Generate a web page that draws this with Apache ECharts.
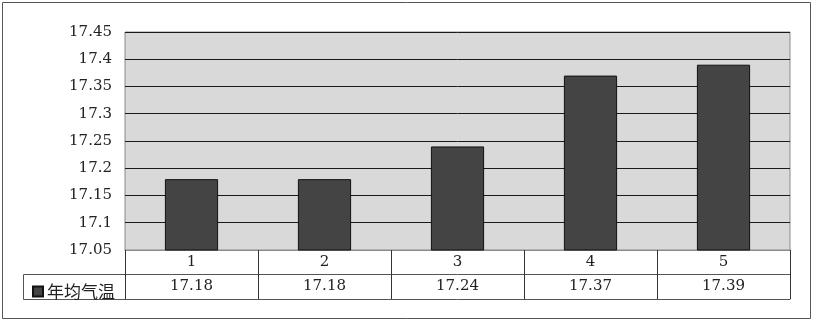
<!DOCTYPE html>
<html><head><meta charset="utf-8">
<script src="https://cdn.jsdelivr.net/npm/echarts@6/dist/echarts.min.js"></script>
<style>html,body{margin:0;padding:0;background:#fff}#c{width:814px;height:323px}</style>
</head><body><div id="c"></div>
<script>
const categories = ['1','2','3','4','5'];
const seriesName = '年均气温';
const values = [17.18, 17.18, 17.24, 17.37, 17.39];
const yMin = 17.05, yMax = 17.45, yStep = 0.05;

const FONT = "'DejaVu Serif','Noto Sans CJK SC',serif";
const chart = echarts.init(document.getElementById('c'));
const gridL = 125, gridR = 24, gridT = 32, gridB = 73;
chart.setOption({
  animation: false,
  backgroundColor: '#fff',
  grid: {left: gridL, right: gridR, top: gridT, bottom: gridB, show: true,
         backgroundColor: '#d9d9d9', borderColor: '#8a8a8a', borderWidth: 1},
  legend: {left: 27, top: 278, icon: 'rect', itemWidth: 10, itemHeight: 10, itemGap: 0,
           textStyle: {fontFamily: "'Noto Sans CJK SC',sans-serif", fontSize: 17, color: '#222', padding: [0,0,0,-1]},
           data: [seriesName]},
  xAxis: [
    {type: 'category', data: categories, position: 'bottom',
     axisLine: {show: true, lineStyle: {color: '#8a8a8a'}},
     axisTick: {show: true, length: 49, lineStyle: {color: '#333'}},
     axisLabel: {margin: 5, fontFamily: FONT, fontSize: 15, color: '#222'}},
    {type: 'category', data: values.map(v => v.toFixed(2)), position: 'bottom', offset: 24,
     axisLine: {show: true, lineStyle: {color: '#555'}},
     axisTick: {show: false},
     axisLabel: {margin: 5, fontFamily: FONT, fontSize: 15, color: '#222'}},
    {type: 'category', data: categories, position: 'bottom', offset: 49,
     axisLine: {show: true, lineStyle: {color: '#555'}},
     axisTick: {show: false}, axisLabel: {show: false}}
  ],
  yAxis: {type: 'value', min: yMin, max: yMax, interval: yStep,
    axisLine: {show: false}, axisTick: {show: false},
    splitLine: {show: true, lineStyle: {color: '#1a1a1a', width: 1}},
    axisLabel: {margin: 13, fontFamily: FONT, fontSize: 15, color: '#222',
      formatter: v => String(parseFloat(v.toFixed(2)))}},
  series: [{name: seriesName, type: 'bar', data: values, barWidth: '40%', xAxisIndex: 0,
    itemStyle: {color: '#444444', borderColor: '#111', borderWidth: 1}}],
  graphic: [
    {type: 'rect', shape: {x: 2.5, y: 2.5, width: 808, height: 316}, style: {fill: 'none', stroke: '#555', lineWidth: 1}, silent: true},
    {type: 'line', shape: {x1: 23.5, y1: 274.5, x2: gridL, y2: 274.5}, style: {stroke: '#555', lineWidth: 1}},
    {type: 'line', shape: {x1: 23.5, y1: 299.5, x2: gridL, y2: 299.5}, style: {stroke: '#555', lineWidth: 1}},
    {type: 'line', shape: {x1: 23.5, y1: 274.5, x2: 23.5, y2: 299.5}, style: {stroke: '#555', lineWidth: 1}}
  ]
});
</script></body></html>
